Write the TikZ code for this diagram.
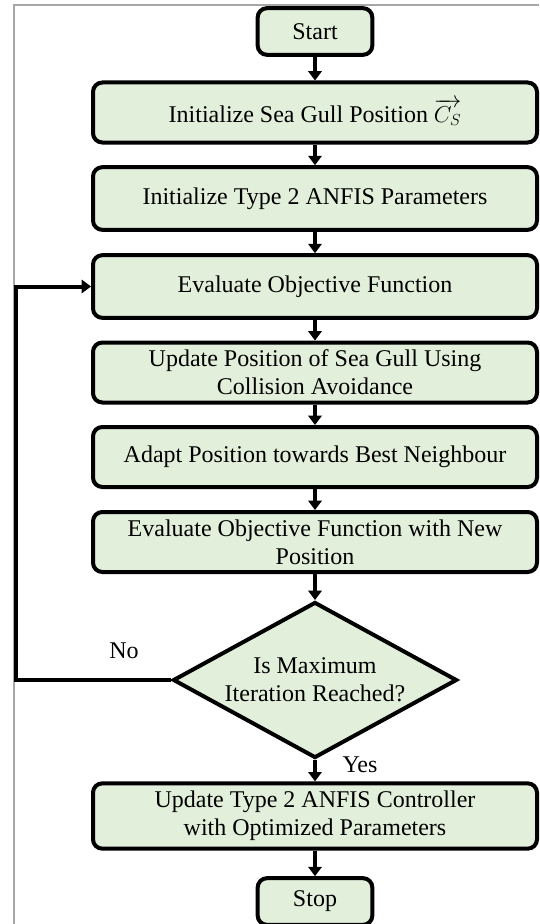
\documentclass[tikz,border=0pt]{standalone}
\usepackage{fontspec}
\setmainfont{Liberation Serif}
\usetikzlibrary{shapes.geometric,arrows.meta}
\definecolor{boxgreen}{HTML}{E2EFDA}

\begin{document}
\begin{tikzpicture}[x=0.75pt, y=-0.75pt,
	stepbox/.style={rectangle, rounded corners=7pt, draw=black, fill=boxgreen, line width=3pt, minimum width=333pt, minimum height=45pt, inner sep=2pt, align=center, font=\fontsize{18}{21}\selectfont},
	endbox/.style={stepbox, minimum width=86pt, minimum height=35pt},
	checkbox/.style={diamond, draw=black, fill=boxgreen, line width=3pt, aspect=1.82, minimum width=213pt, minimum height=117pt, inner sep=0pt, align=center, font=\fontsize{18}{21}\selectfont},
	flow/.style={-{Triangle[width=10pt,length=7pt]}, line width=3pt},
	]
	\useasboundingbox (0,0) rectangle (539,924);
	%Frame
	\draw[gray!70, line width=1.5pt] (539,5) -- (14,5) -- (14,924);
	%Nodes
	\node[endbox] (start) at (315,31.5) {Start};
	%
	\node[stepbox] (init) at (315,112.5) {Initialize Sea Gull Position $\overrightarrow{C_{S}}$};
	%
	\node[stepbox, minimum height=47pt] (param) at (315,198.5) {Initialize Type 2 ANFIS Parameters};
	%
	\node[stepbox, minimum height=47pt] (eval) at (315,286.5) {Evaluate Objective Function};
	%
	\node[stepbox] (update) at (315,372.5) {Update Position of Sea Gull Using\\Collision Avoidance};
	%
	\node[stepbox] (adapt) at (315,457) {Adapt Position towards Best Neighbour};
	%
	\node[stepbox] (evalnew) at (315,542) {Evaluate Objective Function with New\\Position};
	%
	\node[checkbox] (check) at (315,680) {Is Maximum\\Iteration Reached?};
	%
	\node[stepbox, minimum height=49pt] (final) at (315,816) {Update Type 2 ANFIS Controller\\with Optimized Parameters};
	%
	\node[endbox] (stop) at (315,901.5) {Stop};
	%
	\coordinate (loop) at (16,286.5);

	\draw[flow] (start) -- (init);
	\draw[flow] (init) -- (param);
	\draw[flow] (param) -- (eval);
	\draw[flow] (eval) -- (update);
	\draw[flow] (update) -- (adapt);
	\draw[flow] (adapt) -- (evalnew);
	\draw[flow] (evalnew) -- (check);
	\draw[flow] (check) -- (final);
	\draw[flow] (final) -- (stop);
	%
	\draw[flow, line join=miter] (check.west) -| (loop) -- (eval.west);
	%
	\node[font=\fontsize{18}{21}\selectfont] (nolabel) at (124,651) {No};
	\node[font=\fontsize{18}{21}\selectfont] (yeslabel) at (360,765) {Yes};
\end{tikzpicture}
\end{document}
